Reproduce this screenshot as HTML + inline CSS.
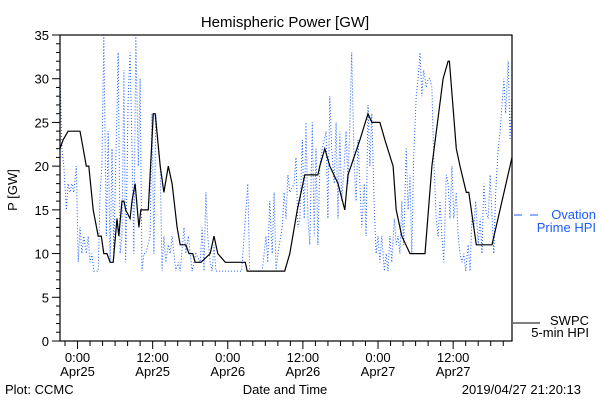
<!DOCTYPE html>
<html><head><meta charset="utf-8"><style>
body{margin:0;background:#fff;}
svg{display:block;font-family:"Liberation Sans",sans-serif;}
</style></head><body>
<svg id="chart" width="600" height="400" viewBox="0 0 600 400">
<rect width="600" height="400" fill="#fff"/>
<text x="285" y="27" font-size="15" text-anchor="middle">Hemispheric Power [GW]</text>
<text x="17" y="190" font-size="13" text-anchor="middle" transform="rotate(-90 17 190)">P [GW]</text>
<text x="285" y="394" font-size="13" text-anchor="middle">Date and Time</text>
<text x="5" y="394" font-size="13">Plot: CCMC</text>
<text x="581" y="394" font-size="13" text-anchor="end">2019/04/27 21:20:13</text>
<defs><clipPath id="pc"><rect x="60" y="35" width="452" height="306"/></clipPath></defs>
<g id="ticks"></g>
<g clip-path="url(#pc)">
<polyline id="blue" fill="none" stroke="#1a5cff" stroke-width="1" stroke-dasharray="1,2"/>
<polyline id="black" fill="none" stroke="#000" stroke-width="1.2"/>
</g>
<rect x="60" y="35" width="452" height="306" fill="none" stroke="#000" stroke-width="1.2"/>
<g>
<line x1="514" y1="215" x2="522" y2="215" stroke="#1a5cff"/>
<line x1="530" y1="215" x2="538" y2="215" stroke="#1a5cff"/>
<text x="596" y="219" font-size="13" fill="#1a5cff" text-anchor="end">Ovation</text>
<text x="596" y="232" font-size="13" fill="#1a5cff" text-anchor="end">Prime HPI</text>
</g>
<g>
<line x1="513" y1="323" x2="540" y2="323" stroke="#000"/>
<text x="589" y="325" font-size="13" text-anchor="end">SWPC</text>
<text x="589" y="337" font-size="13" text-anchor="end">5-min HPI</text>
</g>
</svg>
<script>
const blackHours=[-2.8,-2.3,-1.5,-0.9,0.4,0.9,1.4,1.8,2.5,3.3,3.8,4.2,4.7,5.2,5.7,6.3,6.6,7.1,7.4,7.7,8.4,8.7,9.2,9.8,10.1,10.9,11.3,12.1,12.4,13.2,13.8,14.5,15.1,15.9,16.4,17.3,17.8,18.4,18.8,19.7,21.2,21.8,22.4,23.6,26.8,27.1,28.4,33.1,33.9,35.1,36.3,38.4,38.7,39.5,40.3,41.6,42.7,43.2,45.1,46.4,47.0,48.3,49.1,50.4,50.9,51.8,53.1,55.5,56.6,58.4,59.2,59.4,60.5,61.1,62.1,62.5,63.7,64.3,66.2,69.4];
const blackValues=[22,23,24,24,24,22,20,20,15,12,12,10,10,9,9,14,12,16,16,15,14,16,18,13,15,15,15,26,26,20,17,20,18,13,11,11,10,10,9,9,10,12,10,9,9,8,8,8,10,15,19,19,20,22,20,18,15,19,23,26,25,25,23,20,15,12,10,10,20,30,32,32,22,20,17,17,11,11,11,21];
const blueHours=[-2.8,-2.5,-2.2,-1.8,-1.5,-1.2,-0.9,-0.6,-0.2,0.1,0.4,0.7,1.0,1.4,1.7,2.0,2.3,2.6,3.3,3.6,3.9,4.2,4.6,4.9,5.2,5.5,5.8,6.5,6.8,7.1,7.4,7.7,8.1,8.4,8.7,9.0,9.3,9.7,10.0,10.3,10.6,10.9,11.6,11.9,12.2,12.5,12.9,13.2,13.5,13.8,14.1,14.5,14.8,15.1,15.7,16.1,16.4,17.0,17.3,17.7,18.3,18.9,19.6,19.9,20.2,20.5,20.8,21.2,21.5,21.8,22.1,22.7,24.3,26.2,27.2,27.5,28.3,29.5,30.1,30.4,30.7,31.1,31.4,31.7,32.0,32.7,33.0,33.3,33.6,33.9,34.6,34.9,35.2,35.5,35.9,36.2,36.5,36.8,37.1,37.5,37.8,38.1,38.4,38.7,39.1,39.7,40.0,40.3,40.6,41.0,41.3,41.6,41.9,42.2,42.6,42.9,43.2,43.5,43.8,44.2,44.5,44.8,45.4,45.8,46.1,46.4,46.7,47.0,47.4,47.7,48.0,48.3,48.6,49.0,49.3,49.6,49.9,50.2,50.6,50.9,51.2,51.5,51.8,52.1,52.5,52.8,53.1,53.4,53.7,54.1,54.4,54.7,55.0,55.3,55.7,56.0,56.3,56.6,56.9,57.3,57.6,57.9,58.2,58.5,58.9,59.2,59.5,59.8,60.1,60.5,60.8,61.1,61.4,61.7,62.0,62.4,62.7,63.0,63.3,63.6,64.0,64.3,64.6,64.9,65.2,65.6,65.9,66.5,66.8,67.2,67.5,67.8,68.1,68.4,68.8,69.1,69.4];
const blueValues=[31,22,20,15,18,17,18,17,20,9,13,10,12,10,12,9,10,8,8,17,20,35,12,24,9,22,10,33,10,12,31,9,28,33,22,10,35,20,30,8,10,10,12,26,10,26,22,20,8,12,9,11,10,12,8,9,8,13,10,12,8,10,9,13,8,17,12,9,8,11,8,8,8,8,18,8,8,8,12,9,16,10,17,8,10,13,17,14,19,17,18,21,13,14,23,14,25,14,11,25,12,22,11,20,22,24,14,28,22,18,25,14,24,16,20,24,18,25,33,20,16,23,13,18,12,27,20,26,15,10,12,9,12,8,10,8,12,9,14,11,12,10,16,11,22,15,19,10,21,28,30,33,28,31,29,30,30,29,21,14,12,16,12,9,19,18,14,20,14,17,12,10,9,10,8,11,8,14,13,16,11,14,10,18,15,14,19,10,17,22,24,27,30,26,32,23,28];
const yTickLabels=["0","5","10","15","20","25","30","35"];
const xTickHours=[0,12,24,36,48,60];
const xTickLines1=["0:00","12:00","0:00","12:00","0:00","12:00"];
const xTickLines2=["Apr25","Apr25","Apr26","Apr26","Apr27","Apr27"];

const X0=60,X1=512,Y0=341,Y1=35,H0=-2.8,H1=69.4,V0=0,V1=35;
function xs(h){return X0+(h-H0)/(H1-H0)*(X1-X0);}
function ys(v){return Y0-(v-V0)/(V1-V0)*(Y0-Y1);}
const NS="http://www.w3.org/2000/svg";
const blk=document.getElementById('black');
blk.setAttribute('points',blackHours.map((h,i)=>xs(h).toFixed(1)+','+ys(blackValues[i]).toFixed(1)).join(' '));
const blu=document.getElementById('blue');
blu.setAttribute('points',blueHours.map((h,i)=>xs(h).toFixed(1)+','+ys(blueValues[i]).toFixed(1)).join(' '));
const g=document.getElementById('ticks');
function line(x1,y1,x2,y2,name){const l=document.createElementNS(NS,'line');l.setAttribute('x1',x1);l.setAttribute('y1',y1);l.setAttribute('x2',x2);l.setAttribute('y2',y2);l.setAttribute('stroke','#000');


g.appendChild(l);}
function text(x,y,s,anchor,name){const t=document.createElementNS(NS,'text');t.setAttribute('x',x);t.setAttribute('y',y);t.setAttribute('font-size','13');t.setAttribute('text-anchor',anchor);t.textContent=s;


g.appendChild(t);}
for(let v=V0;v<=V1;v++){const y=ys(v);const major=v%5===0;line(major?52:56,y,X0,y,major?'y-major-tick':'y-minor-tick');}
yTickLabels.forEach(s=>{text(49,ys(+s)+5,s,'end','y-tick-label');});
for(let h=-2;h<=H1;h+=2){const x=xs(h);const major=h%12===0;line(x,Y0,x,Y0+(major?8:5),major?'x-major-tick':'x-minor-tick');}
xTickHours.forEach((h,i)=>{text(xs(h),362,xTickLines1[i],'middle','x-tick-time');text(xs(h),376,xTickLines2[i],'middle','x-tick-date');});
</script>
</body></html>
